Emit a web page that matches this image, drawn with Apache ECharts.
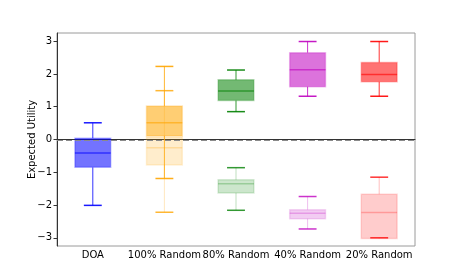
<!DOCTYPE html>
<html>
<head>
<meta charset="utf-8">
<script src="https://cdn.jsdelivr.net/npm/echarts@6/dist/echarts.min.js"></script>
<style>
  html, body { margin: 0; padding: 0; background: #fff; }
  #chart { width: 461px; height: 277px; }
</style>
</head>
<body>
<div id="chart"></div>
<script>
// 类别与刻度
const categories = ['DOA', '100% Random', '80% Random', '40% Random', '20% Random'];
const yTicks = [-3, -2, -1, 0, 1, 2, 3];

// 主箱线 [类别, 下须, Q1, 中位数, Q3, 上须]
const mainBoxes = [
  [0, -2.01, -0.85, -0.41, 0.04, 0.51],
  [1, -1.19, 0.11, 0.51, 1.02, 2.23],
  [2, 0.85, 1.19, 1.48, 1.82, 2.12],
  [3, 1.32, 1.61, 2.13, 2.65, 2.99],
  [4, 1.32, 1.76, 1.98, 2.35, 2.99]
];

// 淡色箱线
const fadedBoxes = [
  [1, -2.22, -0.78, -0.25, 0.08, 1.49],
  [2, -2.16, -1.63, -1.35, -1.23, -0.86],
  [3, -2.73, -2.42, -2.25, -2.14, -1.74],
  [4, -3.0, -3.02, -2.23, -1.67, -1.15]
];

// 参考线
const refLine = [0];

const rgbList = [[0, 0, 255], [255, 165, 0], [0, 128, 0], [191, 0, 191], [255, 0, 0]];

function rgba(c, a) {
  return 'rgba(' + c[0] + ',' + c[1] + ',' + c[2] + ',' + a + ')';
}

/*画箱线图*/
function boxRender(fillA, lineA, medA, whiskerA, capA) {
  return function (params, api) {
    let idx = api.value(0);
    let c = rgbList[idx];
    let bw = api.size([1, 0])[0] * 0.5;
    let cw = bw * 0.5;
    let pLo = api.coord([idx, api.value(1)]);
    let pQ1 = api.coord([idx, api.value(2)]);
    let pMed = api.coord([idx, api.value(3)]);
    let pQ3 = api.coord([idx, api.value(4)]);
    let pHi = api.coord([idx, api.value(5)]);
    let x = pMed[0];
    let lineStyle = {stroke: rgba(c, whiskerA), lineWidth: 1};
    let capStyle = {stroke: rgba(c, capA), lineWidth: 1.5};
    let top = Math.min(pQ1[1], pQ3[1]);
    let bottom = Math.max(pQ1[1], pQ3[1]);
    return {
      type: 'group',
      children: [
        {type: 'line', shape: {x1: x, y1: pHi[1], x2: x, y2: pQ3[1]}, style: lineStyle},
        {type: 'line', shape: {x1: x, y1: pLo[1], x2: x, y2: pQ1[1]}, style: lineStyle},
        {type: 'line', shape: {x1: x - cw / 2, y1: pHi[1], x2: x + cw / 2, y2: pHi[1]}, style: capStyle},
        {type: 'line', shape: {x1: x - cw / 2, y1: pLo[1], x2: x + cw / 2, y2: pLo[1]}, style: capStyle},
        {
          type: 'rect',
          shape: {x: x - bw / 2, y: top, width: bw, height: bottom - top},
          style: {fill: rgba(c, fillA), stroke: rgba(c, lineA), lineWidth: 1.5}
        },
        {type: 'line', shape: {x1: x - bw / 2, y1: pMed[1], x2: x + bw / 2, y2: pMed[1]},
          style: {stroke: rgba(c, medA), lineWidth: 1.5}}
      ]
    };
  };
}

/*y=0 虚线*/
function refRender(params, api) {
  let cs = params.coordSys;
  let y = Math.round(api.coord([0, api.value(0)])[1]) + 0.5;
  return {
    type: 'line',
    shape: {x1: cs.x, y1: y, x2: cs.x + cs.width, y2: y},
    style: {stroke: '#8a8a8a', lineWidth: 1, lineDash: [6, 3], fill: null}
  };
}

let myChart = echarts.init(document.getElementById('chart'));

let option = {
  animation: false,
  grid: {
    left: 57, right: 46, top: 33, bottom: 31,
    show: true, borderColor: '#9a9a9a', borderWidth: 1
  },
  xAxis: {
    type: 'category',
    data: categories,
    boundaryGap: true,
    axisLine: {lineStyle: {color: '#333', width: 1}},
    axisTick: {alignWithLabel: true, length: 3.5, lineStyle: {color: '#333'}},
    axisLabel: {color: '#000', fontSize: 10, fontFamily: 'DejaVu Sans', margin: 4, interval: 0},
    splitLine: {show: false}
  },
  yAxis: {
    type: 'value',
    min: -3.25,
    max: 3.25,
    name: 'Expected Utility',
    nameLocation: 'middle',
    nameGap: 20,
    nameMoveOverlap: false,
    nameTextStyle: {color: '#000', fontSize: 10, fontFamily: 'DejaVu Sans'},
    axisLine: {show: true, lineStyle: {color: '#333', width: 1}},
    axisTick: {show: true, length: 3.5, customValues: yTicks, lineStyle: {color: '#333'}},
    axisLabel: {
      color: '#000', fontSize: 10, fontFamily: 'DejaVu Sans', margin: 5,
      customValues: yTicks,
      formatter: function (v) { return v < 0 ? '\u2212' + Math.abs(v) : String(v); }
    },
    splitLine: {show: false}
  },
  series: [
    {
      type: 'custom',
      name: 'faded',
      renderItem: boxRender(0.2, 0.15, 0.25, 0.25, 0.8),
      data: fadedBoxes,
      encode: {x: 0, y: [1, 2, 3, 4, 5]},
      clip: false
    },
    {
      type: 'custom',
      name: 'zero',
      renderItem: refRender,
      data: refLine.map(function (v) { return [v]; }),
      encode: {y: 0},
      z: 3
    },
    {
      type: 'custom',
      name: 'main',
      renderItem: boxRender(0.55, 0.25, 0.6, 0.8, 0.9),
      data: mainBoxes,
      encode: {x: 0, y: [1, 2, 3, 4, 5]},
      clip: false
    }
  ]
};

myChart.setOption(option);
window.onresize = myChart.resize;
</script>
</body>
</html>
